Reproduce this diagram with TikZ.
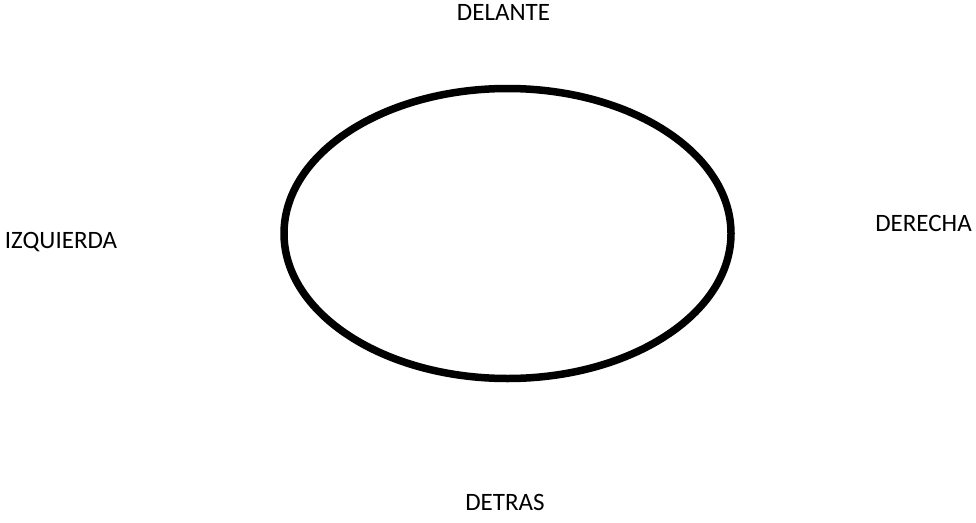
\documentclass[tikz,border=0pt]{standalone}
\usepackage{fontspec}
\setmainfont{Carlito}
\usepackage{tikz}
\usetikzlibrary{positioning,shapes.geometric}

\begin{document}
\begin{tikzpicture}[
  x=1pt, y=-1pt,
  every node/.style={font=\fontsize{25}{29}\selectfont},
  side/.style={inner sep=0pt, anchor=base},
  oval/.style={ellipse, draw, line width=7.5pt, inner sep=0pt,
               minimum width=447pt, minimum height=290pt}
]
  \useasboundingbox (0,0) rectangle (976,522);

  \node[oval] (ring) at (507.5,233.5) {};

  \node[side] (front) at (503.5,20)  {DELANTE};
  \node[side] (left)  at (61,248)    {IZQUIERDA};
  \node[side] (right) at (923.5,231) {DERECHA};
  \node[side] (back)  at (505,510)   {DETRAS};
\end{tikzpicture}
\end{document}
